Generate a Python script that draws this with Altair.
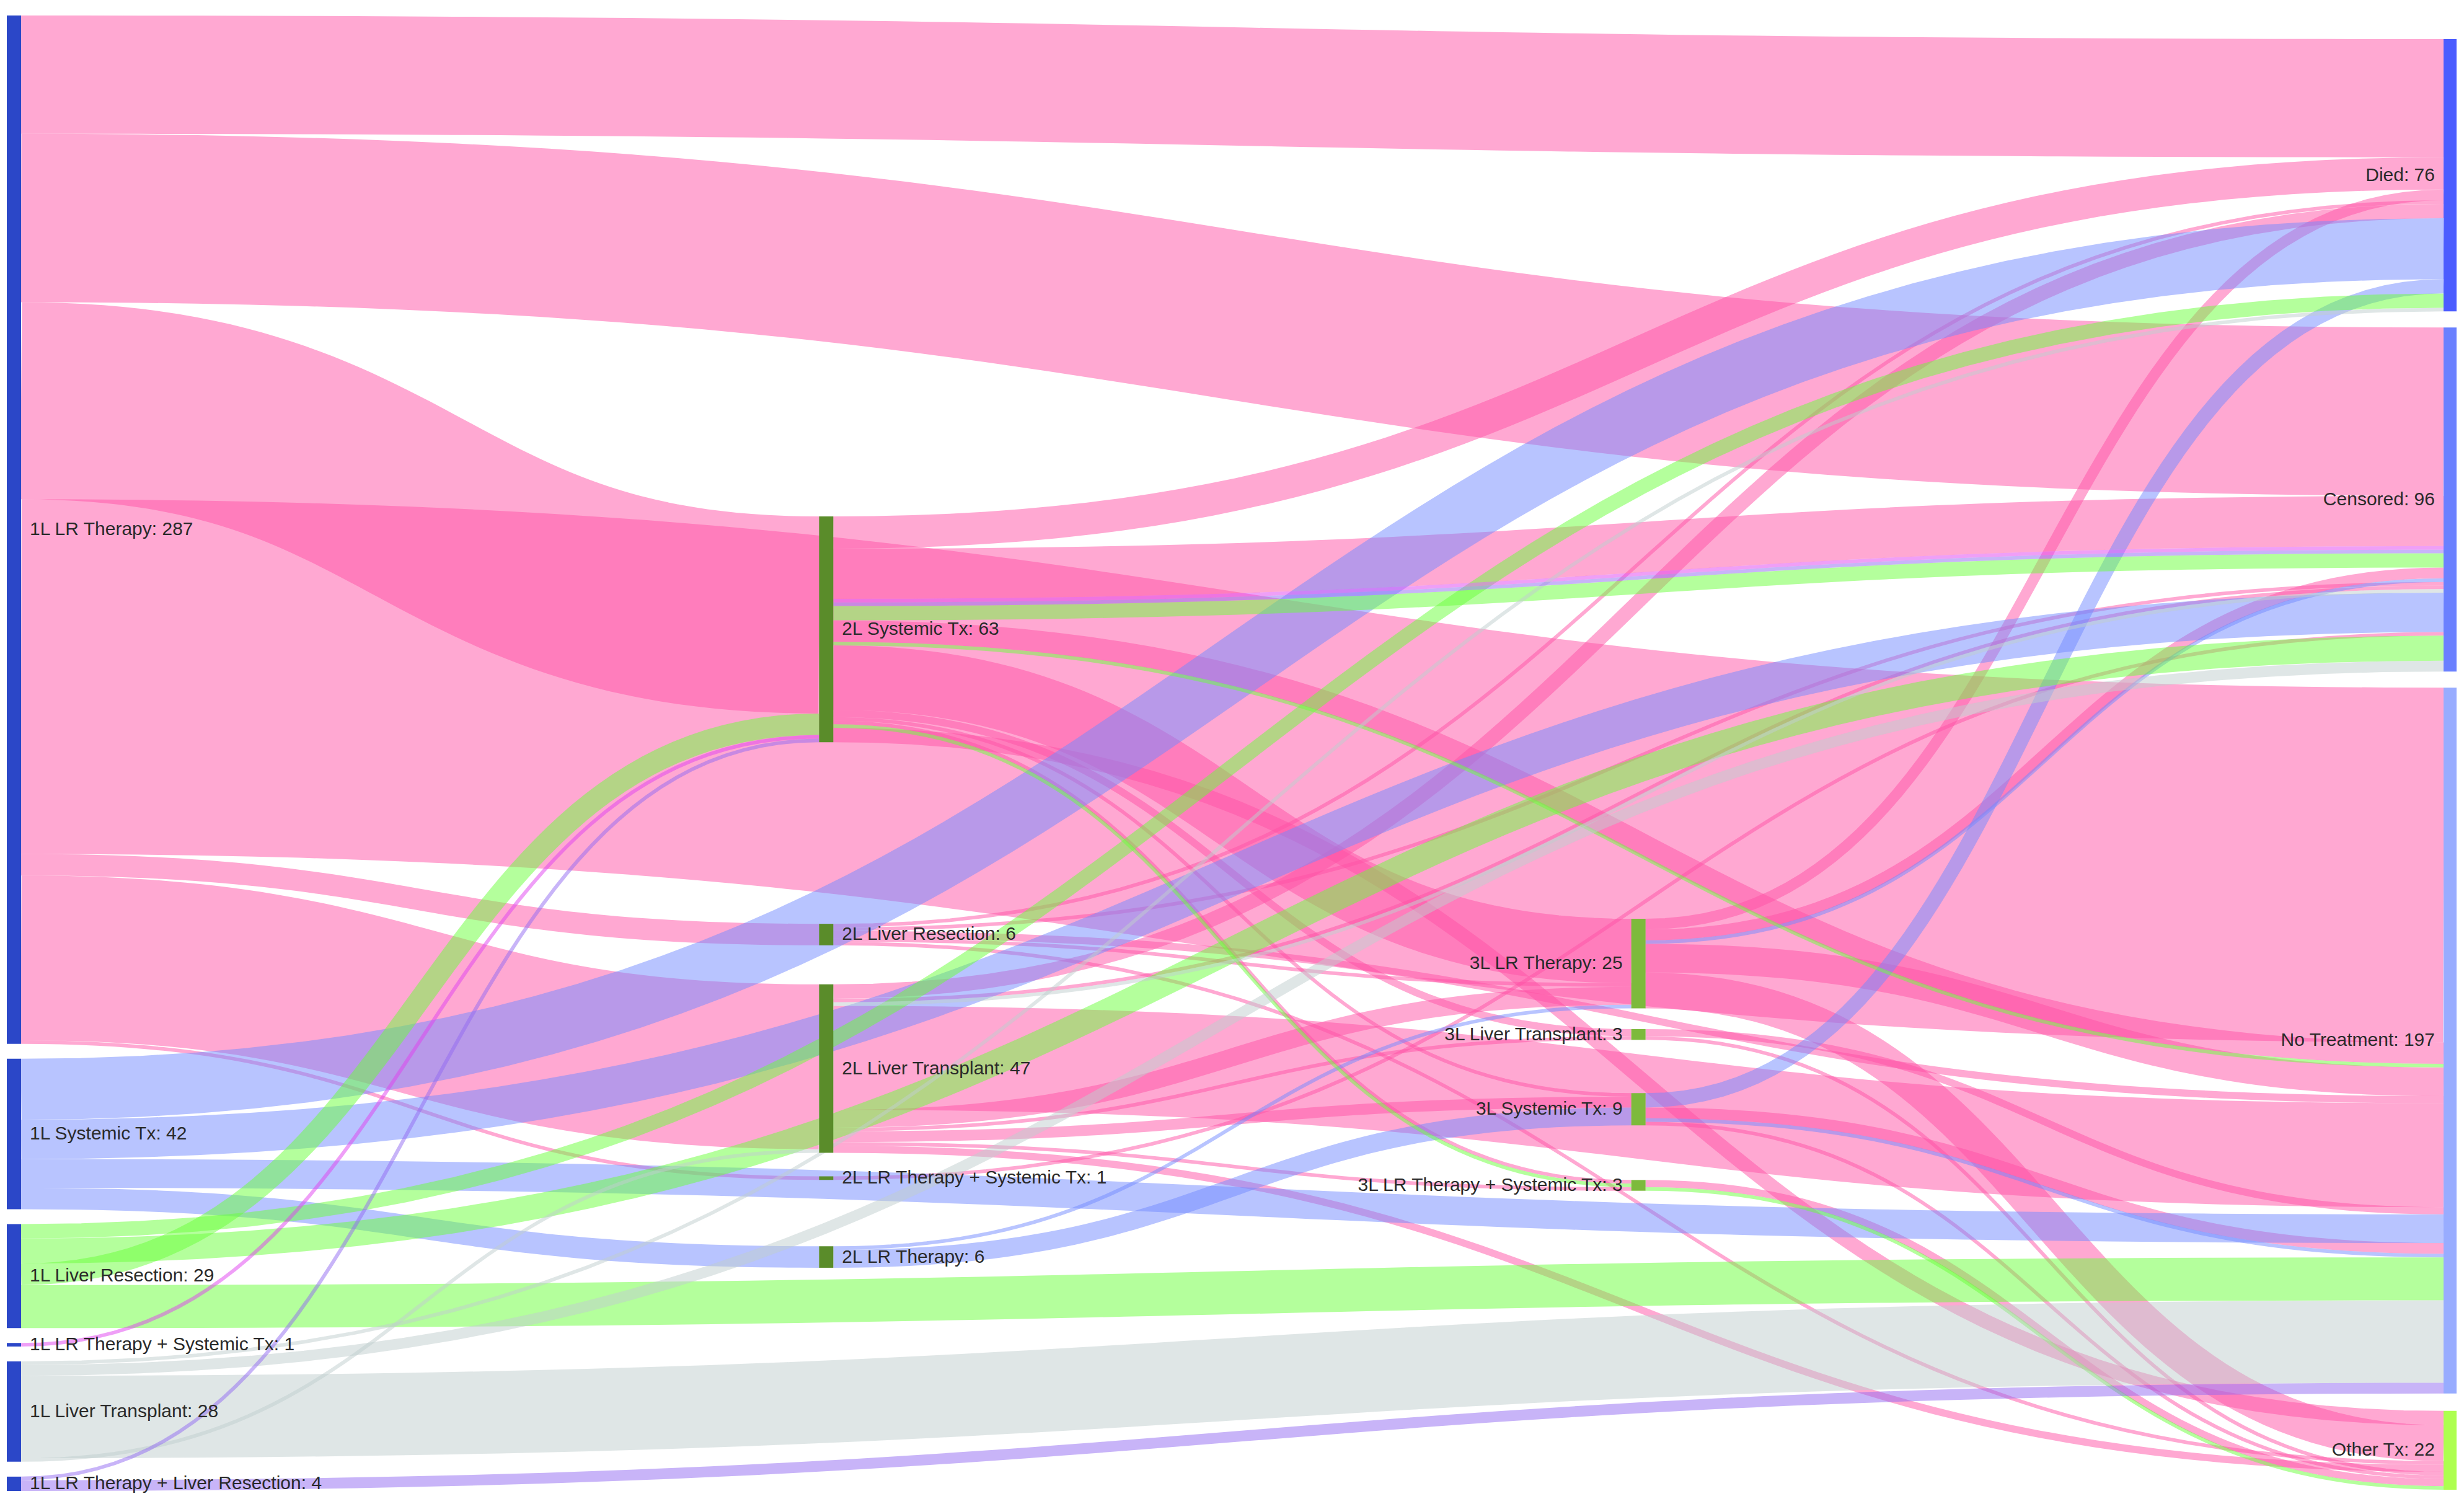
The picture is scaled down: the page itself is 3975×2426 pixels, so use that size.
import numpy as np
import pandas as pd
import altair as alt

# ---------------- data ----------------
node_ids = ["1L_LR", "1L_SYS", "1L_LRES", "1L_LRSYS", "1L_LT", "1L_LRLRES",
            "2L_SYS", "2L_LRES", "2L_LT", "2L_LRSYS", "2L_LR",
            "3L_LR", "3L_LT", "3L_SYS", "3L_LRSYS",
            "DIED", "CENS", "NOTX", "OTHER"]
node_names = ["1L LR Therapy", "1L Systemic Tx", "1L Liver Resection", "1L LR Therapy + Systemic Tx",
              "1L Liver Transplant", "1L LR Therapy + Liver Resection",
              "2L Systemic Tx", "2L Liver Resection", "2L Liver Transplant", "2L LR Therapy + Systemic Tx",
              "2L LR Therapy",
              "3L LR Therapy", "3L Liver Transplant", "3L Systemic Tx", "3L LR Therapy + Systemic Tx",
              "Died", "Censored", "No Treatment", "Other Tx"]
node_column = [0, 0, 0, 0, 0, 0, 1, 1, 1, 1, 1, 2, 2, 2, 2, 3, 3, 3, 3]

groups = ["LR", "LRSYS", "LRLRES", "LRES", "SYS", "LT"]

link_source = [
    # LR Therapy group
    "1L_LR", "1L_LR", "1L_LR", "1L_LR", "1L_LR", "1L_LR", "1L_LR",
    "2L_SYS", "2L_SYS", "2L_SYS", "2L_SYS", "2L_SYS", "2L_SYS", "2L_SYS", "2L_SYS",
    "2L_LRES", "2L_LRES", "2L_LRES", "2L_LRES", "2L_LRES",
    "2L_LT", "2L_LT", "2L_LT", "2L_LT", "2L_LT", "2L_LT", "2L_LT", "2L_LT",
    "2L_LRSYS",
    "3L_LR", "3L_LR", "3L_LR", "3L_LR",
    "3L_LT", "3L_LT",
    "3L_SYS", "3L_SYS",
    "3L_LRSYS",
    # Systemic Tx group
    "1L_SYS", "1L_SYS", "1L_SYS", "1L_SYS",
    "2L_LR", "2L_LR",
    "3L_LR", "3L_SYS", "3L_SYS",
    # Liver Resection group
    "1L_LRES", "1L_LRES", "1L_LRES", "1L_LRES",
    "2L_SYS", "2L_SYS", "2L_SYS", "3L_LRSYS",
    # LR Therapy + Systemic Tx group
    "1L_LRSYS", "2L_SYS",
    # Liver Transplant group
    "1L_LT", "1L_LT", "1L_LT", "1L_LT", "2L_LT",
    # LR Therapy + Liver Resection group
    "1L_LRLRES", "1L_LRLRES", "2L_SYS",
]
link_target = [
    "DIED", "CENS", "2L_SYS", "NOTX", "2L_LRES", "2L_LT", "2L_LRSYS",
    "DIED", "CENS", "NOTX", "3L_LR", "3L_LT", "3L_SYS", "3L_LRSYS", "OTHER",
    "DIED", "CENS", "NOTX", "3L_LR", "OTHER",
    "DIED", "CENS", "NOTX", "3L_LR", "3L_LT", "3L_SYS", "3L_LRSYS", "OTHER",
    "CENS",
    "DIED", "CENS", "NOTX", "OTHER",
    "NOTX", "OTHER",
    "NOTX", "OTHER",
    "OTHER",
    "DIED", "CENS", "NOTX", "2L_LR",
    "3L_LR", "3L_SYS",
    "CENS", "DIED", "NOTX",
    "DIED", "CENS", "2L_SYS", "NOTX",
    "CENS", "NOTX", "3L_LRSYS", "OTHER",
    "2L_SYS", "CENS",
    "DIED", "CENS", "2L_LT", "NOTX", "CENS",
    "2L_SYS", "NOTX", "CENS",
]
link_group = (["LR"] * 38 + ["SYS"] * 9 + ["LRES"] * 8 + ["LRSYS"] * 2 + ["LT"] * 5 + ["LRLRES"] * 3)
link_value = [
    33, 47, 55, 99, 6, 46, 1,
    9, 14, 6, 18, 2, 1, 1, 4,
    1, 1, 2, 1, 1,
    4, 1, 29, 5, 1, 3, 1, 2,
    1,
    3, 3, 8, 10,
    2, 1,
    3, 1,
    2,
    17, 11, 8, 6,
    1, 5,
    1, 4, 1,
    4, 7, 6, 12,
    4, 1, 1, 1,
    1, 1,
    1, 3, 1, 23, 1,
    1, 3, 1,
]

# ---------------- styles / layout ----------------
group_colors = ["#FF51A5", "#E040F0", "#9169F1", "#69FF39", "#7189FF", "#BFCDCD"]
column_colors = ["#2B47C8", "#5A8C2A", "#7DBA3C"]
outcome_colors = {"DIED": "#4B5CFF", "CENS": "#6A80FF", "NOTX": "#98ACFF", "OTHER": "#ADFF4F"}

MARGIN = 8
W, H = 3955, 2405
KY = 5.78
NODE_W = 23
COL_X0 = [11 + i * 1310.33 for i in range(4)]
col_top = [25, 833, 1482, 63]
col_gaps = {0: [24, 24, 24, 24, 24], 1: [293, 63, 38, 107], 2: [33.5, 86, 88], 3: [26, 26, 28]}

# ---------------- layout computation ----------------
n_links = len(link_value)
val_in = {n: 0 for n in node_ids}
val_out = {n: 0 for n in node_ids}
for s, t, v in zip(link_source, link_target, link_value):
    val_out[s] += v
    val_in[t] += v
node_value = {n: max(val_in[n], val_out[n]) for n in node_ids}

node_y0, node_y1, node_x0 = {}, {}, {}
for c in range(4):
    ids = [n for n, col in zip(node_ids, node_column) if col == c]
    y = col_top[c]
    for k, n in enumerate(ids):
        if k > 0:
            y += col_gaps[c][k - 1]
        node_y0[n] = y
        node_y1[n] = y + node_value[n] * KY
        node_x0[n] = COL_X0[c]
        y = node_y1[n]

grank = {g: i for i, g in enumerate(groups)}
link_sy = [0.0] * n_links
link_ty = [0.0] * n_links
for n in node_ids:
    outs = [i for i in range(n_links) if link_source[i] == n]
    outs.sort(key=lambda i: (node_y0[link_target[i]], grank[link_group[i]], i))
    y = node_y0[n]
    for i in outs:
        w = link_value[i] * KY
        link_sy[i] = y + w / 2
        y += w
    ins = [i for i in range(n_links) if link_target[i] == n]
    ins.sort(key=lambda i: (node_y0[link_source[i]], grank[link_group[i]], i))
    y = node_y0[n]
    for i in ins:
        w = link_value[i] * KY
        link_ty[i] = y + w / 2
        y += w

rows = []
ts = np.linspace(0, 1, 60)
for i in range(n_links):
    xa = node_x0[link_source[i]] + NODE_W
    xb = node_x0[link_target[i]]
    xm = (xa + xb) / 2
    ya, yb = link_sy[i], link_ty[i]
    for k, t in enumerate(ts):
        u = 1 - t
        x = u ** 3 * xa + 3 * u * u * t * xm + 3 * u * t * t * xm + t ** 3 * xb
        yv = u ** 3 * ya + 3 * u * u * t * ya + 3 * u * t * t * yb + t ** 3 * yb
        rows.append({"link": i, "i": k, "x": x - MARGIN, "y": yv - MARGIN,
                     "sw": link_value[i] * KY, "group": link_group[i]})
links_df = pd.DataFrame(rows)

nrows = []
for n, name, c in zip(node_ids, node_names, node_column):
    color = column_colors[c] if c < 3 else outcome_colors[n]
    x0 = node_x0[n] - MARGIN
    left = c < 2
    nrows.append({"id": n, "x0": x0, "x1": x0 + NODE_W,
                  "y0": node_y0[n] - MARGIN, "y1": node_y1[n] - MARGIN,
                  "ym": (node_y0[n] + node_y1[n]) / 2 - MARGIN,
                  "tx": x0 + NODE_W + 14 if left else x0 - 14,
                  "side": "L" if left else "R",
                  "label": f"{name}: {node_value[n]}", "color": color})
nodes_df = pd.DataFrame(nrows)

xs = alt.Scale(domain=[0, W], nice=False, zero=False)
ys = alt.Scale(domain=[0, H], nice=False, zero=False, reverse=True)

lines = alt.Chart(links_df).mark_line(strokeCap="butt", strokeOpacity=0.5).encode(
    x=alt.X("x:Q", scale=xs, axis=None),
    y=alt.Y("y:Q", scale=ys, axis=None),
    color=alt.Color("group:N", scale=alt.Scale(domain=groups, range=group_colors), legend=None),
    strokeWidth=alt.StrokeWidth("sw:Q", scale=None),
    detail="link:N",
    order="i:Q",
)

rects = alt.Chart(nodes_df).mark_rect().encode(
    x=alt.X("x0:Q", scale=xs, axis=None), x2="x1:Q",
    y=alt.Y("y0:Q", scale=ys, axis=None), y2="y1:Q",
    color=alt.Color("color:N", scale=None),
)

text_l = alt.Chart(nodes_df).transform_filter(alt.datum.side == "L").mark_text(
    align="left", baseline="middle", fontSize=30, font="Liberation Sans", color="#2a2a2a"
).encode(x=alt.X("tx:Q", scale=xs, axis=None), y=alt.Y("ym:Q", scale=ys, axis=None), text="label:N")

text_r = alt.Chart(nodes_df).transform_filter(alt.datum.side == "R").mark_text(
    align="right", baseline="middle", fontSize=30, font="Liberation Sans", color="#2a2a2a"
).encode(x=alt.X("tx:Q", scale=xs, axis=None), y=alt.Y("ym:Q", scale=ys, axis=None), text="label:N")

chart = alt.layer(lines, rects, text_l, text_r).properties(
    width=W, height=H, padding=0, autosize=alt.AutoSizeParams(type="none"), background="white"
).configure_view(strokeWidth=0)

chart.save("out.html", embed_options={"renderer": "svg", "actions": False})
